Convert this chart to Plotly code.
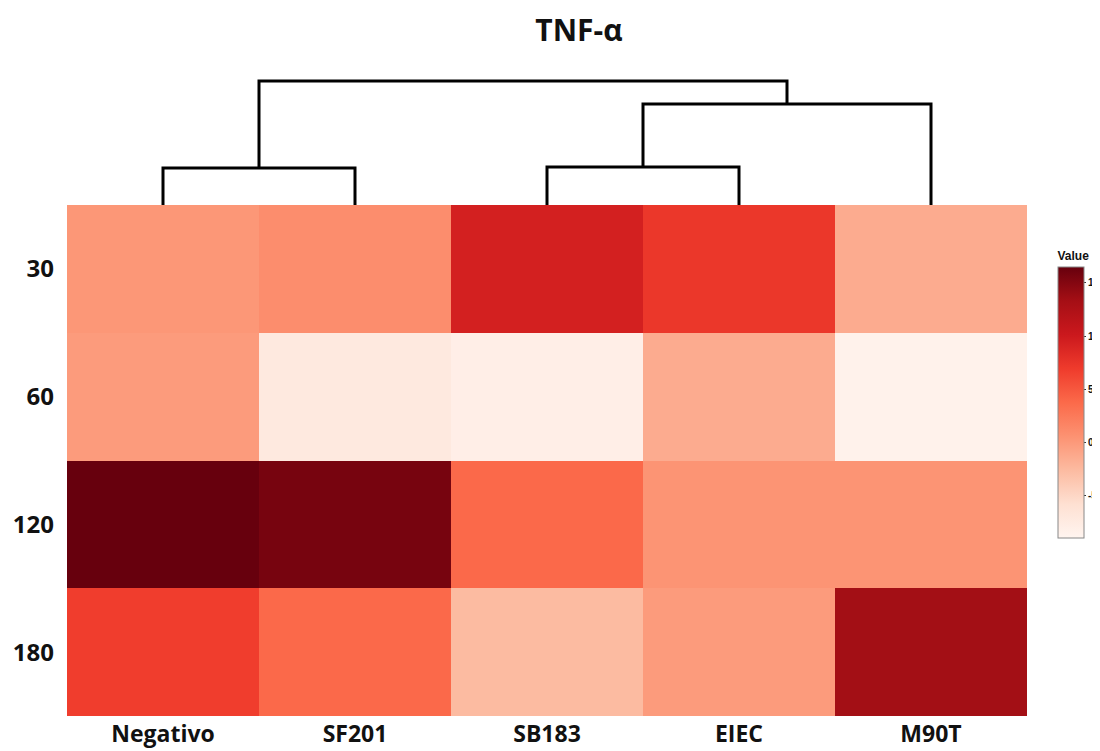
import plotly.graph_objects as go

columns = ["Negativo", "SF201", "SB183", "EIEC", "M90T"]
rows = ["30", "60", "120", "180"]
values = [
    [0.2, 1.0, 9.4, 7.3, -1.4],
    [-0.1, -7.2, -8.0, -1.4, -8.5],
    [16.5, 15.7, 3.8, 0.4, 0.4],
    [6.8, 3.8, -2.6, -0.1, 13.4],
]
zmin, zmax = -9.0, 16.5
cbar_ticks = [-5, 0, 5, 10, 15]

# dendrogram merges: (left node, right node, height); leaves are column indices 0..4,
# new clusters get ids 5, 6, ...
merge_left = [0, 2, 6, 5]
merge_right = [1, 3, 4, 7]
merge_height = [37, 38, 101, 124]

W, H = 1100, 751
OFF = 8  # page body margin offset
x0, x1 = 67 - OFF, 1027 - OFF
hm_top, hm_bot = 205 - OFF, 716 - OFF
dd_top = 75 - OFF

fig = go.Figure()
fig.add_trace(go.Heatmap(
    z=values, x=list(range(len(columns))), y=rows,
    colorscale="Reds", zmin=zmin, zmax=zmax,
    xaxis="x", yaxis="y",
    colorbar=dict(
        title=dict(text="<b>Value</b>", side="top", font=dict(size=12, family="Liberation Sans", color="#111")),
        x=(1058 - OFF) / W, xanchor="left", xpad=0, ypad=0, thickness=26, thicknessmode="pixels",
        len=290, lenmode="pixels", y=(H - (393 - OFF)) / H, yanchor="middle",
        outlinecolor="#888", outlinewidth=1,
        tickvals=cbar_ticks, ticktext=["<b>%d</b>" % t for t in cbar_ticks],
        ticks="outside", ticklen=2, tickcolor="#333",
        tickfont=dict(size=10, family="Liberation Sans", color="#111"),
    ),
    hoverinfo="skip",
))

# build dendrogram coordinates
pos = {i: float(i) for i in range(len(columns))}
hgt = {i: 0.0 for i in range(len(columns))}
xs, ys = [], []
for k, (a, b, h) in enumerate(zip(merge_left, merge_right, merge_height)):
    xs += [pos[a], pos[a], pos[b], pos[b], None]
    ys += [hgt[a], h, h, hgt[b], None]
    nid = len(columns) + k
    pos[nid] = (pos[a] + pos[b]) / 2
    hgt[nid] = h
fig.add_trace(go.Scatter(x=xs, y=ys, mode="lines", line=dict(color="black", width=3),
                         xaxis="x2", yaxis="y2", hoverinfo="skip", showlegend=False))

fig.update_layout(
    width=W, height=H, margin=dict(l=0, r=0, t=0, b=0, autoexpand=False),
    paper_bgcolor="white", plot_bgcolor="white",
    title=dict(text="<b>TNF-α</b>", x=(579 - OFF) / W, xanchor="center", y=(H - (30 - OFF)) / H, yanchor="middle",
               font=dict(size=30, family="Open Sans", color="#111")),
    xaxis=dict(domain=[x0 / W, x1 / W], range=[-0.5, 4.5], tickvals=list(range(5)),
               ticktext=["<b>%s</b>" % c for c in columns], showgrid=False, zeroline=False,
               ticks="", ticklabelstandoff=2, tickfont=dict(size=23, family="Open Sans", color="#111")),
    yaxis=dict(domain=[(H - hm_bot) / H, (H - hm_top) / H], autorange="reversed",
               type="category", tickvals=rows, ticktext=["<b>%s</b>" % r for r in rows],
               showgrid=False, zeroline=False, ticks="", ticklabelstandoff=12,
               tickfont=dict(size=24, family="Open Sans", color="#111")),
    xaxis2=dict(domain=[x0 / W, x1 / W], range=[-0.5, 4.5], visible=False, anchor="y2"),
    yaxis2=dict(domain=[(H - hm_top) / H, (H - dd_top) / H], range=[0, 130], visible=False, anchor="x2"),
)
fig.write_html("out.html")
